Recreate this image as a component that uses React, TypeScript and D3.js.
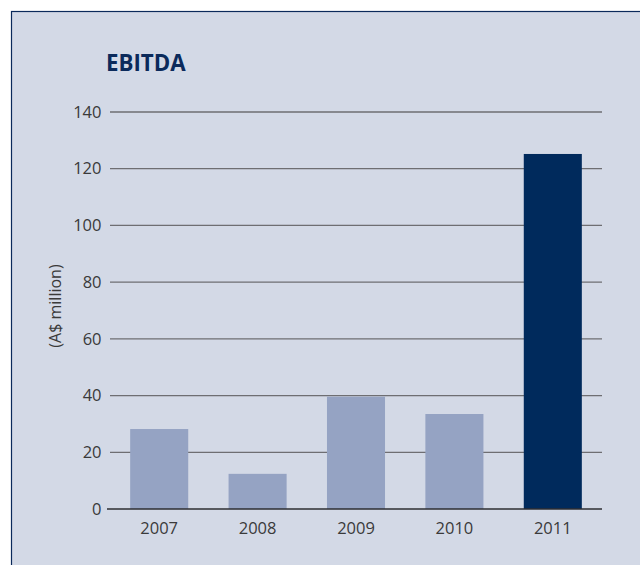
import React from "react";
import * as d3 from "d3";

const categories = ["2007", "2008", "2009", "2010", "2011"];
const values = [28.2, 12.4, 39.6, 33.5, 125.2];
const highlight = [false, false, false, false, true];
const yTicks = [0, 20, 40, 60, 80, 100, 120, 140];
const title = "EBITDA";
const yLabel = "(A$ million)";

const W = 640;
const H = 565;

export default function App() {
  const x = d3
    .scaleBand<string>()
    .domain(categories)
    .range([110, 602])
    .paddingInner(0.41)
    .paddingOuter(0.205);
  const y = d3.scaleLinear().domain([0, 140]).range([509, 112]);
  const font = "'Open Sans', 'Noto Sans', sans-serif";

  return (
    <svg
      width={W}
      height={H}
      style={{ position: "absolute", left: 0, top: 0, background: "#fff" }}
    >
      <rect x={11.5} y={11.5} width={700} height={700} fill="#D3D9E6" stroke="#0B2A5B" strokeWidth={1.2} />
      <text x={106} y={70.5} fontFamily={font} fontWeight={700} fontSize={22.3} fill="#0B2A5B">
        {title}
      </text>
      {yTicks.map((t) => (
        <g key={t}>
          {t !== 0 && (
            <line x1={110} x2={602} y1={y(t)} y2={y(t)} stroke="#6E6E72" strokeWidth={1.3} />
          )}
          <text
            x={101.5}
            y={y(t)}
            dy="0.35em"
            textAnchor="end"
            fontFamily={font}
            fontSize={16.5}
            fill="#3A3A3A"
          >
            {t}
          </text>
        </g>
      ))}
      {categories.map((c, i) => (
        <rect
          key={c}
          x={x(c)}
          y={y(values[i])}
          width={x.bandwidth()}
          height={y(0) - y(values[i])}
          fill={highlight[i] ? "#002A5C" : "#95A3C3"}
        />
      ))}
      <line x1={107} x2={602} y1={y(0)} y2={y(0)} stroke="#2E2E32" strokeWidth={1.3} />
      {categories.map((c) => (
        <text
          key={c}
          x={(x(c) as number) + x.bandwidth() / 2}
          y={533.5}
          textAnchor="middle"
          fontFamily={font}
          fontSize={16.5}
          fill="#3A3A3A"
        >
          {c}
        </text>
      ))}
      <text
        transform={`translate(55, 306) rotate(-90)`}
        dy="0.35em"
        textAnchor="middle"
        fontFamily={font}
        fontSize={16}
        fill="#3A3A3A"
      >
        {yLabel}
      </text>
    </svg>
  );
}
